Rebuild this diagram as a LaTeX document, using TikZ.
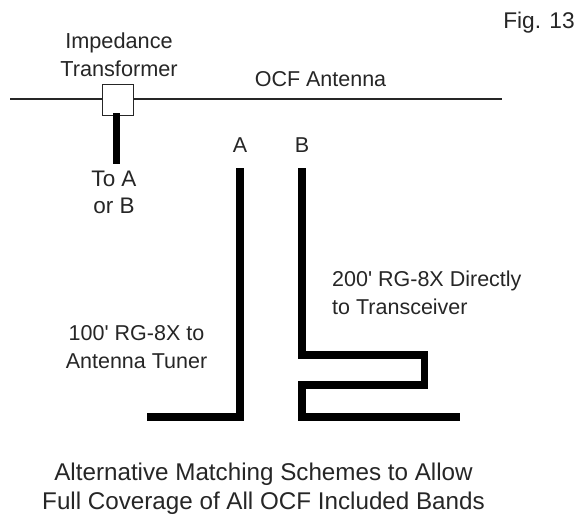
\documentclass[tikz,border=0pt]{standalone}
\usepackage{fontspec}
\setmainfont{Liberation Sans}[Ligatures=TeXOff]
\tikzset{lbl/.style={inner sep=0pt,font=\fontsize{21.5}{28}\selectfont,align=center,text=black!85},
thick line/.style={line width=7.5pt,black,line cap=butt,line join=miter},
thin line/.style={line width=1.8pt,black!85}}
\begin{document}
\begin{tikzpicture}[x=1pt,y=-1pt]
\useasboundingbox (0,0) rectangle (576,515);
\fill[white] (0,0) rectangle (576,515);
\coordinate (wl) at (10,99); \coordinate (wr) at (502,99);
\draw[thin line] (wl) -- (wr);
\node[draw=black!85,line width=1.8pt,fill=white,minimum width=31pt,minimum height=31pt,inner sep=0pt] (box) at (118,100) {};
\coordinate (fa) at (116.5,164);
\coordinate (ft) at (116.5,113);
\draw[thick line,line width=6.5pt] (ft) -- (fa);
\coordinate (a1) at (240,168); \coordinate (a2) at (240,417); \coordinate (a3) at (147,417);
\draw[thick line] (a1) -- (a2) -- (a3);
\coordinate (b1) at (302,168); \coordinate (b2) at (302,355); \coordinate (b3) at (424.5,355);
\coordinate (b4) at (424.5,385); \coordinate (b5) at (302,385); \coordinate (b6) at (302,417); \coordinate (b7) at (460,417);
\draw[thick line] (b1) -- (b2) -- (b3) -- (b4) -- (b5) -- (b6) -- (b7);
\node[lbl,font=\fontsize{22.7}{28}\selectfont] (fig) at (539,23) {Fig. 13};
\node[lbl,font=\fontsize{21.7}{28}\selectfont] (imp) at (119,55) {Impedance\\Transformer};
\node[lbl] (ocf) at (320.5,79) {OCF Antenna};
\node[lbl] (la) at (240,145) {A};
\node[lbl] (lb) at (302,145) {B};
\node[lbl,font=\fontsize{22.5}{27.5}\selectfont] (toa) at (114,192.5) {To A\\or B};
\node[lbl,align=left,anchor=west] (l200) at (332,293) {200' RG-8X Directly\\to Transceiver};
\node[lbl] (l100) at (136.5,347) {100' RG-8X to\\Antenna Tuner};
\node[lbl,font=\fontsize{24.2}{29}\selectfont] (cap) at (263.5,488.5) {Alternative Matching Schemes to Allow\\Full Coverage of All OCF Included Bands};
\end{tikzpicture}
\end{document}
